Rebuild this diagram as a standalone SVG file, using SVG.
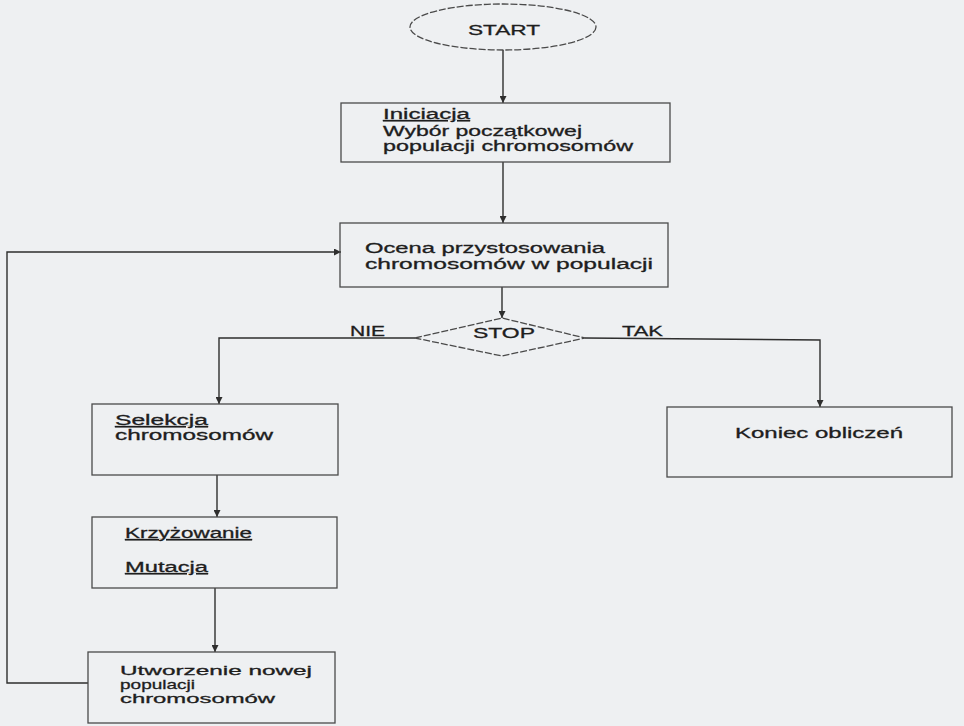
<svg xmlns="http://www.w3.org/2000/svg" width="964" height="726" viewBox="0 0 964 726">
<style>
.bg{fill:#eef0f2}
.shape{fill:none;stroke:#4a4a4a;stroke-width:1.3}
.dash{stroke-dasharray:7 2}
.con{fill:none;stroke:#2e2e2e;stroke-width:1.4}
text{font-family:"Liberation Sans",Arial,sans-serif;font-size:14px;fill:#1e1e1e;stroke:#1e1e1e;stroke-width:0.3}
.sm{font-size:13px}
.u{text-decoration:underline}
</style>
<defs>
<marker id="arr" viewBox="0 0 10 10" refX="10" refY="5" markerWidth="7" markerHeight="7" markerUnits="userSpaceOnUse" orient="auto">
<path d="M0,0 L10,5 L0,10 z" fill="#2e2e2e"/>
</marker>
</defs>
<rect class="bg" x="0" y="0" width="964" height="726"/>

<g id="connectors">
<line class="con" x1="503" y1="50" x2="503" y2="103" marker-end="url(#arr)"/>
<line class="con" x1="503" y1="162" x2="503" y2="223" marker-end="url(#arr)"/>
<line class="con" x1="502" y1="287" x2="502" y2="318" marker-end="url(#arr)"/>
<polyline class="con" points="415,338 219,338 219,404" marker-end="url(#arr)"/>
<polyline class="con" points="585,338 820,340 820,407" marker-end="url(#arr)"/>
<line class="con" x1="217" y1="475" x2="217" y2="517" marker-end="url(#arr)"/>
<line class="con" x1="215" y1="588" x2="215" y2="652" marker-end="url(#arr)"/>
<polyline class="con" points="88,683 7,683 7,252 341,252" marker-end="url(#arr)"/>
</g>

<g id="start">
<ellipse class="shape dash" cx="503" cy="27" rx="93" ry="23"/>
<text x="468" y="35" textLength="72" lengthAdjust="spacingAndGlyphs">START</text>
</g>

<g id="inicjacja">
<rect class="shape" x="341" y="103" width="329" height="59"/>
<text class="u" x="383" y="119" textLength="87" lengthAdjust="spacingAndGlyphs">Iniciacja</text>
<text x="383" y="136" textLength="199" lengthAdjust="spacingAndGlyphs">Wybór początkowej</text>
<text x="383" y="151" textLength="250" lengthAdjust="spacingAndGlyphs">populacji chromosomów</text>
</g>

<g id="ocena">
<rect class="shape" x="340" y="223" width="328" height="64"/>
<text x="365" y="253" textLength="240" lengthAdjust="spacingAndGlyphs">Ocena przystosowania</text>
<text x="365" y="269" textLength="288" lengthAdjust="spacingAndGlyphs">chromosomów w populacji</text>
</g>

<g id="stop">
<polygon class="shape dash" points="415,338 502,318 585,338 502,356"/>
<text x="473" y="338" textLength="62" lengthAdjust="spacingAndGlyphs">STOP</text>
<text x="350" y="336" textLength="35" lengthAdjust="spacingAndGlyphs">NIE</text>
<text x="622" y="336" textLength="41" lengthAdjust="spacingAndGlyphs">TAK</text>
</g>

<g id="selekcja">
<rect class="shape" x="92" y="404" width="246" height="71"/>
<text class="u" x="115" y="425" textLength="93" lengthAdjust="spacingAndGlyphs">Selekcja</text>
<text x="115" y="440" textLength="158" lengthAdjust="spacingAndGlyphs">chromosomów</text>
</g>

<g id="krzyzowanie">
<rect class="shape" x="92" y="517" width="245" height="71"/>
<text class="u" x="125" y="538" textLength="127" lengthAdjust="spacingAndGlyphs">Krzyżowanie</text>
<text class="u" x="125" y="572" textLength="83" lengthAdjust="spacingAndGlyphs">Mutacja</text>
</g>

<g id="utworzenie">
<rect class="shape" x="88" y="652" width="247" height="71"/>
<text class="sm" x="120" y="675" textLength="192" lengthAdjust="spacingAndGlyphs">Utworzenie nowej</text>
<text class="sm" x="120" y="689" textLength="75" lengthAdjust="spacingAndGlyphs">populacji</text>
<text class="sm" x="120" y="703" textLength="155" lengthAdjust="spacingAndGlyphs">chromosomów</text>
</g>

<g id="koniec">
<rect class="shape" x="667" y="407" width="285" height="70"/>
<text x="735" y="438" textLength="168" lengthAdjust="spacingAndGlyphs">Koniec obliczeń</text>
</g>
</svg>
